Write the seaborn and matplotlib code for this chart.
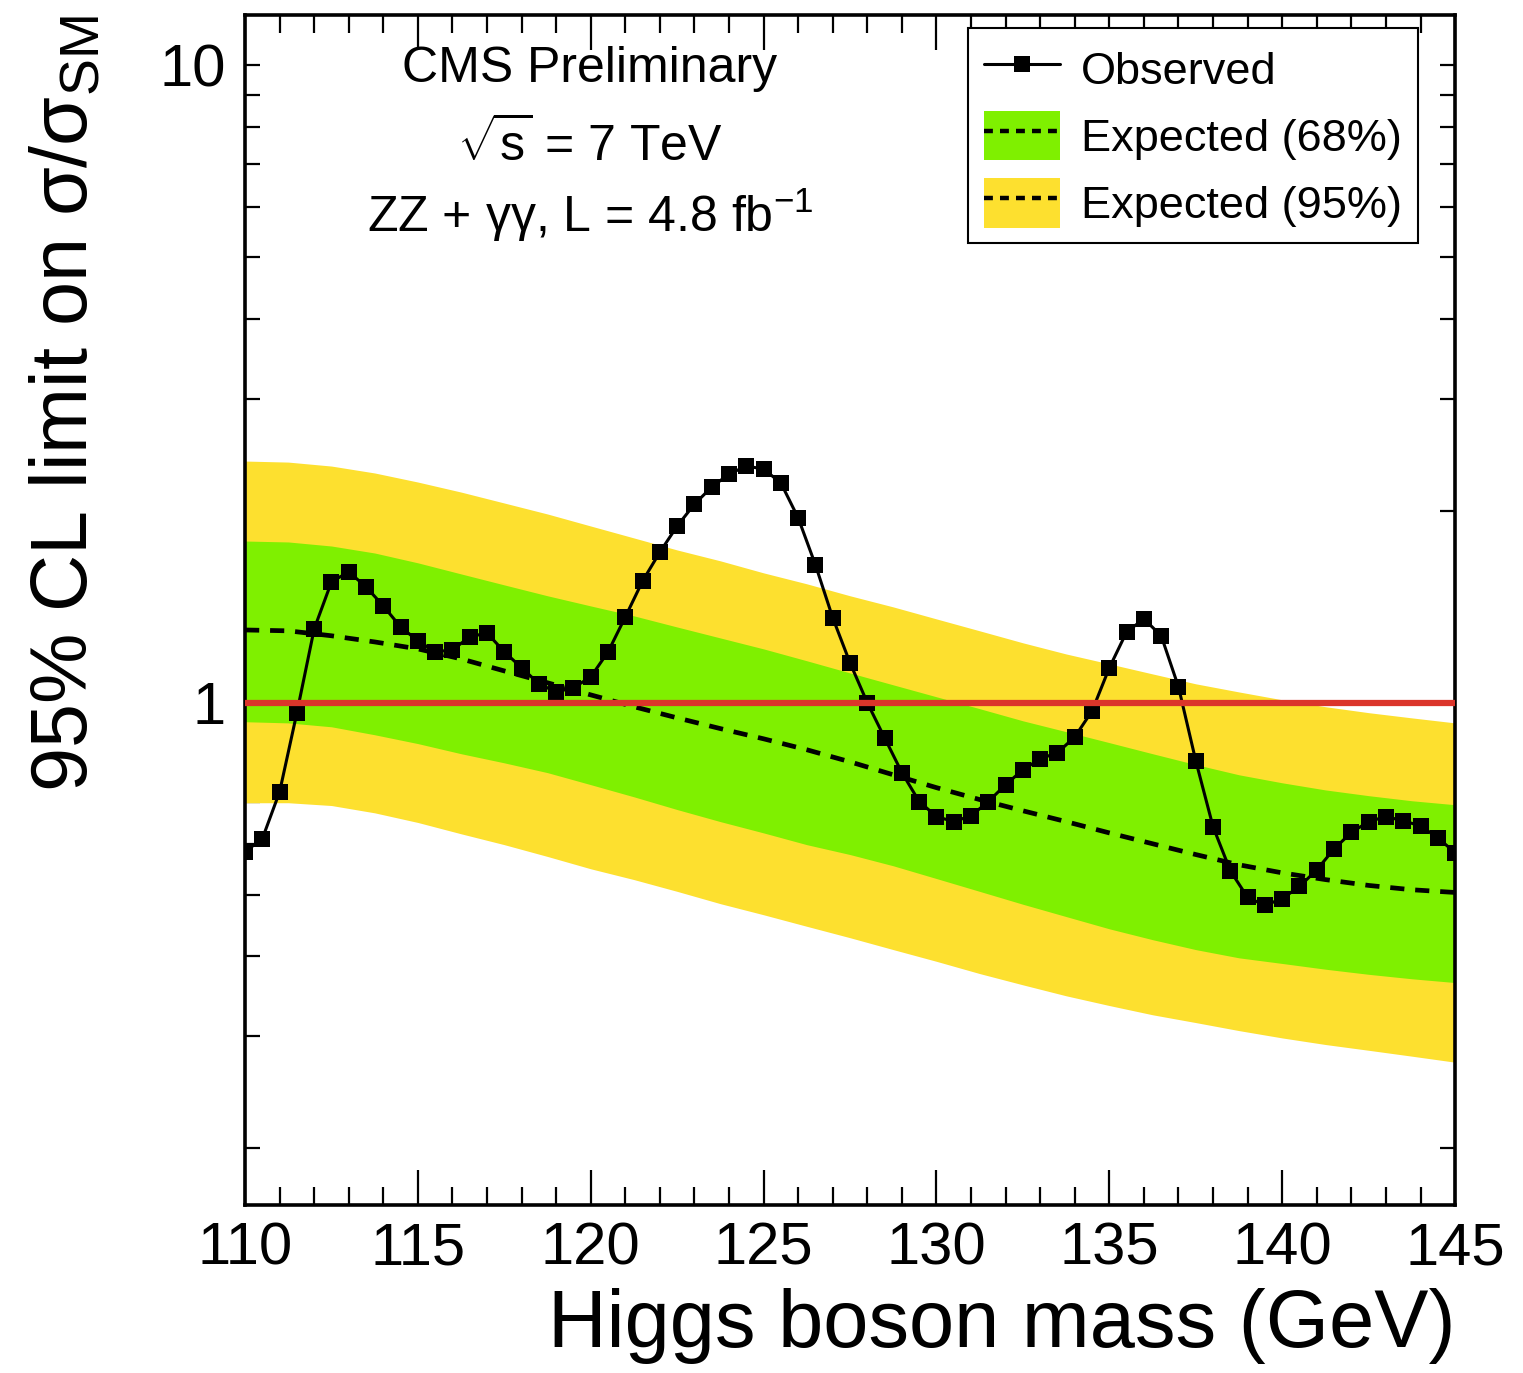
import numpy as np
import matplotlib
matplotlib.use("Agg")
import matplotlib.pyplot as plt
import seaborn as sns
from matplotlib.lines import Line2D
from matplotlib.patches import Patch
from matplotlib.legend_handler import HandlerTuple
from matplotlib.ticker import FixedLocator, FixedFormatter, NullFormatter, MultipleLocator

# ---------------- data ----------------
mass_obs = np.arange(110.0, 145.01, 0.5)
observed = [
    0.584, 0.612, 0.725, 0.965, 1.306, 1.548, 1.605, 1.520, 1.419, 1.315,
    1.251, 1.202, 1.211, 1.269, 1.287,
    1.202, 1.135, 1.071, 1.040, 1.056, 1.098, 1.202, 1.364, 1.553, 1.724,
    1.894, 2.050, 2.181, 2.285,
    2.352, 2.327, 2.212, 1.950, 1.645, 1.359, 1.155, 1.000, 0.881, 0.777,
    0.700, 0.663, 0.651, 0.665,
    0.700, 0.744, 0.785, 0.817, 0.835, 0.884, 0.971, 1.135, 1.292, 1.354,
    1.274, 1.059, 0.811, 0.639,
    0.545, 0.495, 0.481, 0.493, 0.515, 0.547, 0.590, 0.626, 0.651, 0.663,
    0.653, 0.641, 0.614, 0.582,
]

mass_exp = np.arange(110.0, 145.01, 1.25)
exp_median = [1.301, 1.297, 1.274, 1.246, 1.215, 1.172, 1.122, 1.075, 1.029,
              0.986, 0.947, 0.911, 0.878, 0.844, 0.808, 0.771, 0.736, 0.705,
              0.677, 0.651, 0.625, 0.601, 0.578, 0.557, 0.541, 0.528, 0.517,
              0.509, 0.504]
exp_68_hi = [1.794, 1.788, 1.762, 1.718, 1.658, 1.593, 1.531, 1.472, 1.419,
             1.369, 1.315, 1.264, 1.215, 1.164, 1.114, 1.067, 1.022, 0.979,
             0.937, 0.901, 0.866, 0.832, 0.800, 0.771, 0.749, 0.730, 0.715,
             0.702, 0.692]
exp_68_lo = [0.934, 0.930, 0.917, 0.891, 0.863, 0.832, 0.805, 0.777, 0.744,
             0.712, 0.680, 0.651, 0.625, 0.599, 0.578, 0.555, 0.530, 0.506,
             0.483, 0.462, 0.442, 0.425, 0.410, 0.398, 0.390, 0.382, 0.375,
             0.369, 0.364]
exp_95_hi = [2.395, 2.386, 2.352, 2.294, 2.220, 2.141, 2.058, 1.978, 1.894,
             1.814, 1.737, 1.670, 1.599, 1.537, 1.472, 1.414, 1.354, 1.297,
             1.242, 1.193, 1.151, 1.110, 1.071, 1.040, 1.011, 0.986, 0.965,
             0.947, 0.930]
exp_95_lo = [0.697, 0.697, 0.690, 0.672, 0.649, 0.623, 0.599, 0.574, 0.549,
             0.528, 0.506, 0.484, 0.465, 0.446, 0.428, 0.410, 0.393, 0.376,
             0.361, 0.347, 0.335, 0.324, 0.315, 0.306, 0.298, 0.291, 0.285,
             0.279, 0.273]

x_ticks = [110, 115, 120, 125, 130, 135, 140, 145]
y_major = [1, 10]
y_major_labels = ["1", "10"]
y_minor = [0.2, 0.3, 0.4, 0.5, 0.6, 0.7, 0.8, 0.9, 2, 3, 4, 5, 6, 7, 8, 9]

GREEN = "#7FF000"
YELLOW = "#FDE02F"
RED = "#DB352B"

# ---------------- style ----------------
sns.set_theme(style="ticks")
plt.rcParams["font.family"] = ["Liberation Sans", "DejaVu Sans"]
plt.rcParams["mathtext.fontset"] = "custom"
plt.rcParams["mathtext.rm"] = "Liberation Sans"
plt.rcParams["mathtext.it"] = "Liberation Sans:italic"
plt.rcParams["mathtext.bf"] = "Liberation Sans:bold"
plt.rcParams["axes.unicode_minus"] = False
for k in ["text.color", "axes.labelcolor", "xtick.color", "ytick.color",
          "axes.edgecolor", "xtick.labelcolor", "ytick.labelcolor"]:
    plt.rcParams[k] = "black"

fig = plt.figure(figsize=(15.23, 13.73), dpi=100)
ax = fig.add_axes([0.1609, 0.1224, 0.7945, 0.8667])
ax.set_yscale("log")

ax.fill_between(mass_exp, exp_95_lo, exp_95_hi, color=YELLOW, lw=0, zorder=1)
ax.fill_between(mass_exp, exp_68_lo, exp_68_hi, color=GREEN, lw=0, zorder=2)
sns.lineplot(x=mass_exp, y=exp_median, ax=ax, color="black", lw=3.4,
             linestyle=(0, (3.0, 2.3)), zorder=3)
sns.lineplot(x=mass_obs, y=observed, ax=ax, color="black", lw=2.2,
             marker="s", markersize=11.5, markeredgewidth=0, zorder=4)
ax.axhline(1.0, color=RED, lw=4.5, zorder=5)

ax.set_xlim(110, 145)
ax.set_ylim(0.163, 12.0)

ax.xaxis.set_major_locator(FixedLocator(x_ticks))
ax.xaxis.set_minor_locator(MultipleLocator(1))
ax.yaxis.set_major_locator(FixedLocator(y_major))
ax.yaxis.set_major_formatter(FixedFormatter(y_major_labels))
ax.yaxis.set_minor_locator(FixedLocator(y_minor))
ax.yaxis.set_minor_formatter(NullFormatter())

ax.tick_params(axis="both", which="both", direction="in", top=True, right=True,
               width=1.6, colors="black", labelsize=43, labelcolor="black")
ax.tick_params(axis="x", which="major", length=25, pad=12)
ax.tick_params(axis="x", which="minor", length=13)
ax.tick_params(axis="y", which="major", length=11, pad=14)
ax.tick_params(axis="y", which="minor", length=11)
for s in ax.spines.values():
    s.set_linewidth(2.6)
    s.set_color("black")

ax.set_xlabel("Higgs boson mass (GeV)", fontsize=58.5, loc="right", labelpad=8,
              color="black")
ax.set_ylabel("95% CL limit on σ/σ$_{\\mathrm{SM}}$", fontsize=57, loc="top",
              labelpad=40, color="black")

txt_kw = dict(transform=ax.transAxes, ha="center", va="center", fontsize=36, color="black")
ax.text(0.285, 0.955, "CMS Preliminary", **txt_kw)
ax.text(0.285, 0.891, "$\\sqrt{\\mathrm{s}}$ = 7 TeV", **txt_kw)
ax.text(0.285, 0.832, "ZZ + γγ, L = 4.8 fb$^{\\mathrm{-1}}$", **txt_kw)

h_obs = Line2D([], [], color="black", lw=2.2, marker="s", markersize=11.5, markeredgewidth=0)
dash = (0, (2.0, 1.6))
h68 = (Patch(facecolor=GREEN, edgecolor="none"),
       Line2D([], [], color="black", lw=3.2, linestyle=dash))
h95 = (Patch(facecolor=YELLOW, edgecolor="none"),
       Line2D([], [], color="black", lw=3.2, linestyle=dash))
leg = ax.legend([h_obs, h68, h95], ["Observed", "Expected (68%)", "Expected (95%)"],
                handler_map={tuple: HandlerTuple(ndivide=1, pad=0)},
                loc="upper right", bbox_to_anchor=(0.969, 0.989), borderaxespad=0,
                fontsize=32.5, frameon=True, fancybox=False, edgecolor="black",
                framealpha=1, handlelength=1.7, handleheight=1.3,
                handletextpad=0.45, labelspacing=0.4, borderpad=0.35)
leg.get_frame().set_linewidth(1.5)
for t in leg.get_texts():
    t.set_color("black")
leg.set_zorder(10)

fig.savefig("out.png", dpi=100, facecolor="white")
